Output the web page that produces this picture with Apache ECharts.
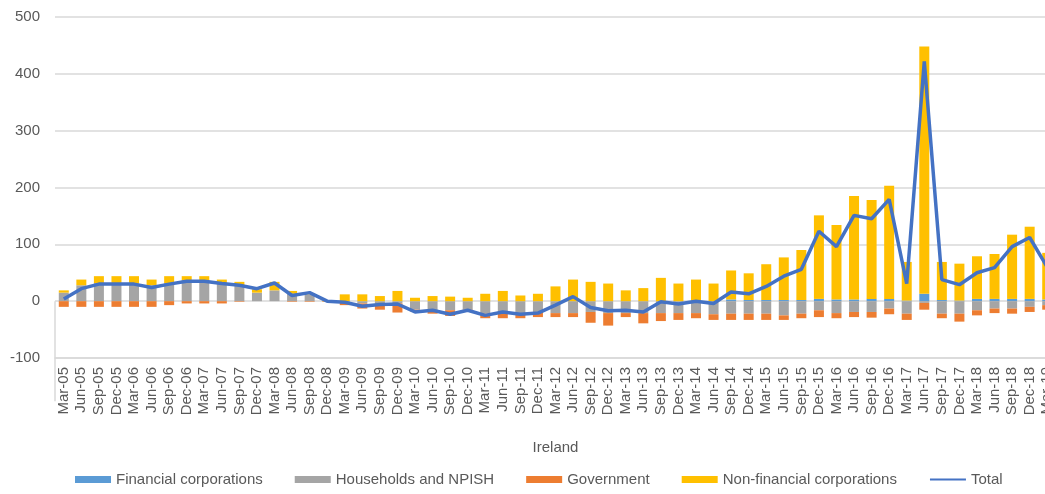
<!DOCTYPE html>
<html>
<head>
<meta charset="utf-8">
<title>Ireland</title>
<script src="https://cdn.jsdelivr.net/npm/echarts@6/dist/echarts.min.js"></script>
<style>
    html, body { margin: 0; padding: 0; background: #fff; }
    #main { width: 1045px; height: 494px; }
</style>
</head>
<body>
<div id="main"></div>
<script>
// quarters Mar-05 .. Mar-19 (last one is cut off by the frame)
var quarters = [
    'Mar-05', 'Jun-05', 'Sep-05', 'Dec-05', 'Mar-06', 'Jun-06', 'Sep-06', 'Dec-06',
    'Mar-07', 'Jun-07', 'Sep-07', 'Dec-07', 'Mar-08', 'Jun-08', 'Sep-08', 'Dec-08',
    'Mar-09', 'Jun-09', 'Sep-09', 'Dec-09', 'Mar-10', 'Jun-10', 'Sep-10', 'Dec-10',
    'Mar-11', 'Jun-11', 'Sep-11', 'Dec-11', 'Mar-12', 'Jun-12', 'Sep-12', 'Dec-12',
    'Mar-13', 'Jun-13', 'Sep-13', 'Dec-13', 'Mar-14', 'Jun-14', 'Sep-14', 'Dec-14',
    'Mar-15', 'Jun-15', 'Sep-15', 'Dec-15', 'Mar-16', 'Jun-16', 'Sep-16', 'Dec-16',
    'Mar-17', 'Jun-17', 'Sep-17', 'Dec-17', 'Mar-18', 'Jun-18', 'Sep-18', 'Dec-18',
    'Mar-19'
];
var groupLabels = ['Ireland'];

var financialCorporations = [
    0, 0, 0, 0, 0, 0, 0, 0, 0, 0, 0, 0, 0, 0, 0, 0,
    0, 0, 0, 0, 0, 0, 0, 0, 0, 0, 0, 0, 0, 0, 0, 0,
    0, 0, 0, 0, 0, 0, 3, 2, 2, 2, 2, 4, 3, 3, 4, 4,
    1, 13, 2, 1, 4, 4, 4, 4, 3
];
var households = [
    15, 28, 32, 32, 31, 28, 32, 37, 37, 32, 28, 15, 19, 13, 12, 0,
    -2, -4, -5, -4, -15, -18, -16, -15, -22, -21, -22, -19, -21, -21, -19, -21,
    -21, -21, -21, -21, -21, -23, -22, -22, -22, -25, -22, -16, -21, -19, -19, -13,
    -22, -3, -22, -22, -16, -13, -13, -10, -7
];
var government = [
    -10, -10, -10, -10, -10, -10, -7, -4, -4, -4, -1, 0, 0, -1, -1, -1,
    -5, -9, -10, -16, -3, -4, -10, -3, -8, -9, -8, -9, -7, -7, -19, -22,
    -7, -18, -14, -12, -9, -10, -11, -11, -11, -8, -8, -12, -9, -9, -10, -10,
    -11, -12, -8, -14, -9, -8, -9, -9, -8
];
var nonFinancial = [
    4, 10, 12, 12, 13, 10, 12, 7, 7, 6, 6, 6, 15, 5, 2, 1,
    12, 12, 9, 18, 6, 9, 8, 6, 13, 18, 10, 13, 26, 38, 34, 31,
    19, 23, 41, 31, 38, 31, 51, 47, 63, 75, 88, 147, 131, 182, 174, 199,
    68, 435, 67, 65, 75, 79, 113, 127, 82
];
var total = [
    4, 22, 30, 30, 30, 24, 30, 35, 35, 31, 28, 22, 32, 10, 15, 0,
    -2, -9, -6, -5, -19, -16, -23, -16, -25, -19, -23, -21, -7, 8, -11, -17,
    -16, -19, -1, -5, 0, -4, 16, 13, 26, 44, 56, 123, 96, 151, 145, 179,
    31, 422, 38, 29, 50, 59, 96, 112, 60
];

var textColor = '#595959';
var lineColor = '#d9d9d9';
var font = 'Liberation Sans';

var myChart = echarts.init(document.getElementById('main'));

function barSeries(name, data, color) {
    return {
        name: name,
        type: 'bar',
        stack: 'sectors',
        barWidth: 10,
        itemStyle: { color: color },
        data: data
    };
}

var option = {
    animation: false,
    textStyle: { fontFamily: font },
    // plot runs a little past the right edge, like the cropped original
    grid: {
        left: 55,
        top: 17,
        width: 1001,
        height: 341,
        containLabel: false,
        outerBoundsMode: 'none'
    },
    legend: {
        left: 70,
        bottom: 2,
        itemWidth: 36,
        itemHeight: 7,
        itemGap: 32,
        textStyle: { color: textColor, fontSize: 15, fontFamily: font },
        data: [
            { name: 'Financial corporations', icon: 'rect' },
            { name: 'Households and NPISH', icon: 'rect' },
            { name: 'Government', icon: 'rect' },
            { name: 'Non-financial corporations', icon: 'rect' },
            { name: 'Total', itemStyle: { opacity: 0 } }
        ]
    },
    xAxis: [{
        type: 'category',
        data: quarters,
        axisLine: { onZero: false, lineStyle: { color: lineColor, width: 1.5 } },
        axisTick: { show: false },
        axisLabel: {
            interval: 0,
            rotate: 90,
            margin: 9,
            color: textColor,
            fontSize: 15
        }
    }, {
        type: 'category',
        data: groupLabels,
        position: 'bottom',
        axisLine: { show: false },
        axisTick: { show: true, length: 100, lineStyle: { color: lineColor, width: 1.5 } },
        axisLabel: { margin: 82, color: textColor, fontSize: 15 }
    }],
    yAxis: [{
        type: 'value',
        min: -100,
        max: 500,
        interval: 100,
        axisLine: { show: false },
        axisTick: { show: false },
        axisLabel: { color: textColor, fontSize: 15, margin: 15 },
        splitLine: { lineStyle: { color: lineColor, width: 1.5 } }
    }],
    series: [
        barSeries('Financial corporations', financialCorporations, '#5b9bd5'),
        barSeries('Households and NPISH', households, '#a5a5a5'),
        barSeries('Government', government, '#ed7d31'),
        barSeries('Non-financial corporations', nonFinancial, '#ffc000'),
        {
            name: 'Total',
            type: 'line',
            symbol: 'none',
            lineStyle: { color: '#4472c4', width: 3.5 },
            itemStyle: { color: '#4472c4' },
            data: total
        }
    ]
};

myChart.setOption(option);
</script>
</body>
</html>
